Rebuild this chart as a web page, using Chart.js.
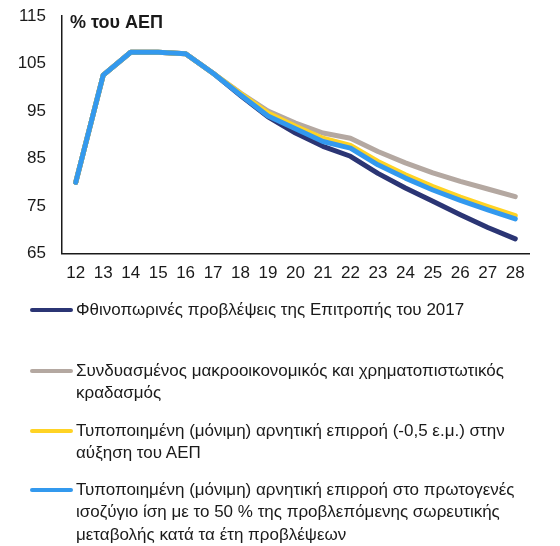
<!DOCTYPE html>
<html>
<head>
<meta charset="utf-8">
<script src="https://cdn.jsdelivr.net/npm/chart.js@4/dist/chart.umd.min.js"></script>
<style>
    body { margin: 0; background: #fff; font-family: "Liberation Sans", Arial, sans-serif; overflow: hidden; }
    #wrap { position: relative; width: 560px; height: 546px; overflow: hidden; }
    #chartBox { position: absolute; left: 0; top: -10px; width: 560px; height: 310px; }
    #legend { position: absolute; left: 30px; top: 299px; width: 520px; }
    .item { position: relative; padding-left: 46px; font-size: 17px; line-height: 22.5px; color: #1a1a1a; width: 464px; }
    .item .swatch { position: absolute; left: 0; top: 9px; width: 43px; height: 4px; border-radius: 2px; }
</style>
</head>
<body>
<div id="wrap">
    <div id="chartBox"><canvas id="debtChart"></canvas></div>
    <div id="legend"></div>
</div>
<script>
// years (20xx)
const years = ['12', '13', '14', '15', '16', '17', '18', '19', '20', '21', '22', '23', '24', '25', '26', '27', '28'];

const seriesNames = [
    'Φθινοπωρινές προβλέψεις της Επιτροπής του 2017',
    'Συνδυασμένος μακροοικονομικός και χρηματοπιστωτικός κραδασμός',
    'Τυποποιημένη (μόνιμη) αρνητική επιρροή (-0,5 ε.μ.) στην αύξηση του ΑΕΠ',
    'Τυποποιημένη (μόνιμη) αρνητική επιρροή στο πρωτογενές ισοζύγιο ίση με το 50 % της προβλεπόμενης σωρευτικής μεταβολής κατά τα έτη προβλέψεων'
];

const autumnForecast = [80, 102.6, 107.4, 107.4, 107.1, 103, 98.3, 93.8, 90.4, 87.6, 85.5, 81.9, 78.8, 76.0, 73.2, 70.5, 68.1];
const combinedShock  = [80, 102.6, 107.4, 107.4, 107.1, 103, 98.8, 95.0, 92.5, 90.4, 89.3, 86.5, 84.1, 82.0, 80.2, 78.6, 77.0];
const growthShock    = [80, 102.6, 107.4, 107.4, 107.1, 103, 98.7, 94.6, 91.8, 89.3, 87.8, 84.4, 81.6, 79.1, 76.9, 74.9, 73.0];
const balanceShock   = [80, 102.6, 107.4, 107.4, 107.1, 103, 98.4, 94.0, 91.3, 88.6, 87.2, 83.7, 80.9, 78.4, 76.2, 74.2, 72.3];

const yTicks = [65, 75, 85, 95, 105, 115];
const unitLabel = '% του ΑΕΠ';

const colors = ['#2b3574', '#b4a8a1', '#ffd324', '#3399ee'];
const allSeries = [autumnForecast, combinedShock, growthShock, balanceShock];

// draws the unit label in the top-left corner of the plot
const unitPlugin = {
    id: 'unitLabel',
    afterDraw(chart) {
        const ctx = chart.ctx;
        ctx.save();
        ctx.font = 'bold 18px "Liberation Sans", Arial, sans-serif';
        ctx.fillStyle = '#1a1a1a';
        ctx.textBaseline = 'middle';
        ctx.fillText(unitLabel, chart.chartArea.left + 8, chart.chartArea.top + 7);
        ctx.restore();
    }
};

const ctx = document.getElementById('debtChart').getContext('2d');
const debtChart = new Chart(ctx, {
    type: 'line',
    data: {
        labels: years,
        datasets: allSeries.map((vals, i) => ({
            label: seriesNames[i],
            data: vals,
            borderColor: colors[i],
            backgroundColor: colors[i],
            borderWidth: 5,
            pointRadius: 0,
            tension: 0,
            borderCapStyle: 'round',
            borderJoinStyle: 'round',
            order: allSeries.length - 1 - i // last series on top
        }))
    },
    options: {
        responsive: true,
        maintainAspectRatio: false,
        animation: false,
        layout: { padding: { top: 0, right: 31, bottom: 6, left: 0 } },
        plugins: { legend: { display: false }, tooltip: { enabled: false } },
        scales: {
            x: {
                offset: true,
                grid: { display: false, drawTicks: false },
                border: { display: true, color: '#1a1a1a', width: 1.5 },
                ticks: { color: '#1a1a1a', padding: 10, font: { size: 17, family: '"Liberation Sans", Arial' }, maxRotation: 0, autoSkip: false }
            },
            y: {
                min: 65,
                max: 115,
                afterBuildTicks: scale => { scale.ticks = yTicks.map(v => ({ value: v })); },
                afterFit: scale => { scale.width = 62; },
                grid: { display: false, drawTicks: false },
                border: { display: true, color: '#1a1a1a', width: 1.5 },
                ticks: { color: '#1a1a1a', padding: 16, font: { size: 17, family: '"Liberation Sans", Arial' } }
            }
        }
    },
    plugins: [unitPlugin]
});

// legend built from the same series names and colours
const legendGaps = [38, 15, 14, 0];
const legend = document.getElementById('legend');
seriesNames.forEach((name, i) => {
    const item = document.createElement('div');
    item.className = 'item';
    item.style.marginBottom = legendGaps[i] + 'px';
    item.innerHTML = '<span class="swatch" style="background:' + colors[i] + '"></span>' + name;
    legend.appendChild(item);
});
</script>
</body>
</html>
